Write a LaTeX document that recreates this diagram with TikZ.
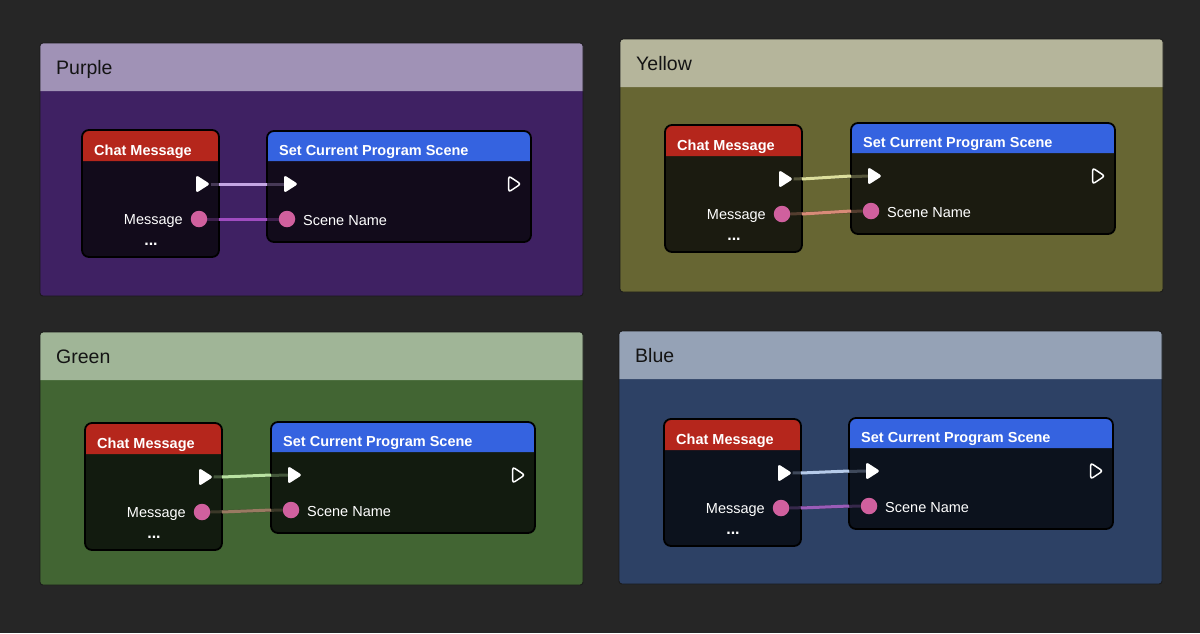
\documentclass[tikz,border=0pt]{standalone}
\usepackage{fontspec}
\setmainfont{Liberation Sans}
\usetikzlibrary{shapes.geometric}

\pgfdeclarelayer{pins}
\pgfsetlayers{main,pins}

% canvas and node colours
\definecolor{canvas}{HTML}{262626}
\definecolor{chatred}{HTML}{B5261C}
\definecolor{sceneblue}{HTML}{3563E0}
\definecolor{pinpink}{HTML}{D0609E}
\definecolor{titleink}{HTML}{141414}

% group colours: head, body, node, exec wire, data wire
\definecolor{purplehead}{HTML}{A092B6}
\definecolor{purplebody}{HTML}{3F2163}
\definecolor{purplenode}{HTML}{120B1B}
\definecolor{purpleexec}{HTML}{C4A6E4}
\definecolor{purpledata}{HTML}{A04CC0}
\definecolor{yellowhead}{HTML}{B5B59B}
\definecolor{yellowbody}{HTML}{676633}
\definecolor{yellownode}{HTML}{1B1B10}
\definecolor{yellowexec}{HTML}{DCDE9C}
\definecolor{yellowdata}{HTML}{D88B78}
\definecolor{greenhead}{HTML}{A0B597}
\definecolor{greenbody}{HTML}{426533}
\definecolor{greennode}{HTML}{121B0F}
\definecolor{greenexec}{HTML}{B9E2A2}
\definecolor{greendata}{HTML}{9A7A62}
\definecolor{bluehead}{HTML}{95A2B6}
\definecolor{bluebody}{HTML}{2D4165}
\definecolor{bluenode}{HTML}{0C121D}
\definecolor{blueexec}{HTML}{B6CBEA}
\definecolor{bluedata}{HTML}{9A5CB8}

\newcommand\pinfont{\fontsize{14.5}{17}\selectfont}

\tikzset{
  groupframe/.style={draw=black!90, line width=0.8pt, rounded corners=3pt},
  nodebox/.style={rectangle, inner sep=0pt, outer sep=0pt, anchor=north west, rounded corners=7pt},
  nodeedge/.style={draw=black, line width=1.8pt, rounded corners=7pt},
  titletext/.style={anchor=base west, inner sep=0pt, text=titleink, font=\fontsize{19.5}{22}\selectfont},
  headtext/.style={anchor=base west, inner sep=0pt, text=white, font=\pinfont\bfseries},
  pintext/.style={inner sep=0pt, text=white, font=\pinfont},
  execpin/.style={isosceles triangle, isosceles triangle stretches, inner sep=0pt,
    minimum height=14pt, minimum width=18pt, rounded corners=2.5pt, fill=white},
  execout/.style={execpin, fill=none, draw=white, line width=1.5pt,
    minimum height=12pt, minimum width=16pt},
  datapin/.style={circle, inner sep=0pt, minimum size=16.5pt, fill=pinpink},
  wire/.style={line width=3pt},
}

% #1 colour key, #2 title, (#3,#4) group corner, (#5,#6) chat node, (#7,#8) scene node
\newcommand{\groupbox}[8]{%
  \begin{scope}[shift={(#3,#4)}]
    \fill[#1body, rounded corners=3pt] (0,0) rectangle (543,253);
    \fill[#1head] (0,48) [rounded corners=3pt] -- (0,0) -- (543,0) [sharp corners] -- (543,48) -- cycle;
    \draw[groupframe] (0,0) rectangle (543,253);
    \node[titletext] (#1title) at (16,31) {#2};
  \end{scope}
  % Chat Message node
  \begin{scope}[shift={(#5,#6)}]
    \node[nodebox, fill=#1node, minimum width=137pt, minimum height=127pt] (#1chat) at (0,0) {};
    \fill[chatred] (0,31) [rounded corners=7pt] -- (0,0) -- (137,0) [sharp corners] -- (137,31) -- cycle;
    \draw[nodeedge] (#1chat.north west) rectangle (#1chat.south east);
    \node[headtext] (#1chattitle) at (12,25) {Chat Message};
    \node[pintext, anchor=base east] (#1chatlabel) at (101,94) {Message};
    \node[pintext, font=\fontsize{16}{17}\selectfont\bfseries] (#1chatmore) at (69,114) {...};
    \begin{pgfonlayer}{pins}
      \node[execpin] (#1chatexec) at (119,54) {};
      \node[datapin] (#1chatdata) at (117,89) {};
    \end{pgfonlayer}
  \end{scope}
  % Set Current Program Scene node
  \begin{scope}[shift={(#7,#8)}]
    \node[nodebox, fill=#1node, minimum width=264pt, minimum height=111pt] (#1set) at (0,0) {};
    \fill[sceneblue] (0,30) [rounded corners=7pt] -- (0,0) -- (264,0) [sharp corners] -- (264,30) -- cycle;
    \draw[nodeedge] (#1set.north west) rectangle (#1set.south east);
    \node[headtext] (#1settitle) at (12,24) {Set Current Program Scene};
    \node[pintext, anchor=base west] (#1setlabel) at (36,94) {Scene Name};
    \begin{pgfonlayer}{pins}
      \node[execpin] (#1setexec) at (22,53) {};
      \node[execout] (#1setnext) at (246,53) {};
      \node[datapin] (#1setdata) at (20,88) {};
    \end{pgfonlayer}
  \end{scope}
  % wires, dark where they pass over the nodes
  \draw[wire, #1exec!30!#1node] (#1chatexec.east) -- (#1setexec.west);
  \draw[wire, #1exec] (#1chat.east |- #1chatexec) -- (#1set.west |- #1setexec);
  \draw[wire, #1data!30!#1node] (#1chatdata.east) -- (#1setdata.west);
  \draw[wire, #1data] (#1chat.east |- #1chatdata) -- (#1set.west |- #1setdata);
}

\begin{document}
\begin{tikzpicture}[x=1pt,y=-1pt]
  \useasboundingbox (0,0) rectangle (1200,633);
  \fill[canvas] (0,0) rectangle (1200,633);

  % Groups
  \groupbox{purple}{Purple}{40}{43}{82}{130}{267}{131}
  \groupbox{yellow}{Yellow}{620}{39}{665}{125}{851}{123}
  \groupbox{green}{Green}{40}{332}{85}{423}{271}{422}
  \groupbox{blue}{Blue}{619}{331}{664}{419}{849}{418}
\end{tikzpicture}
\end{document}
